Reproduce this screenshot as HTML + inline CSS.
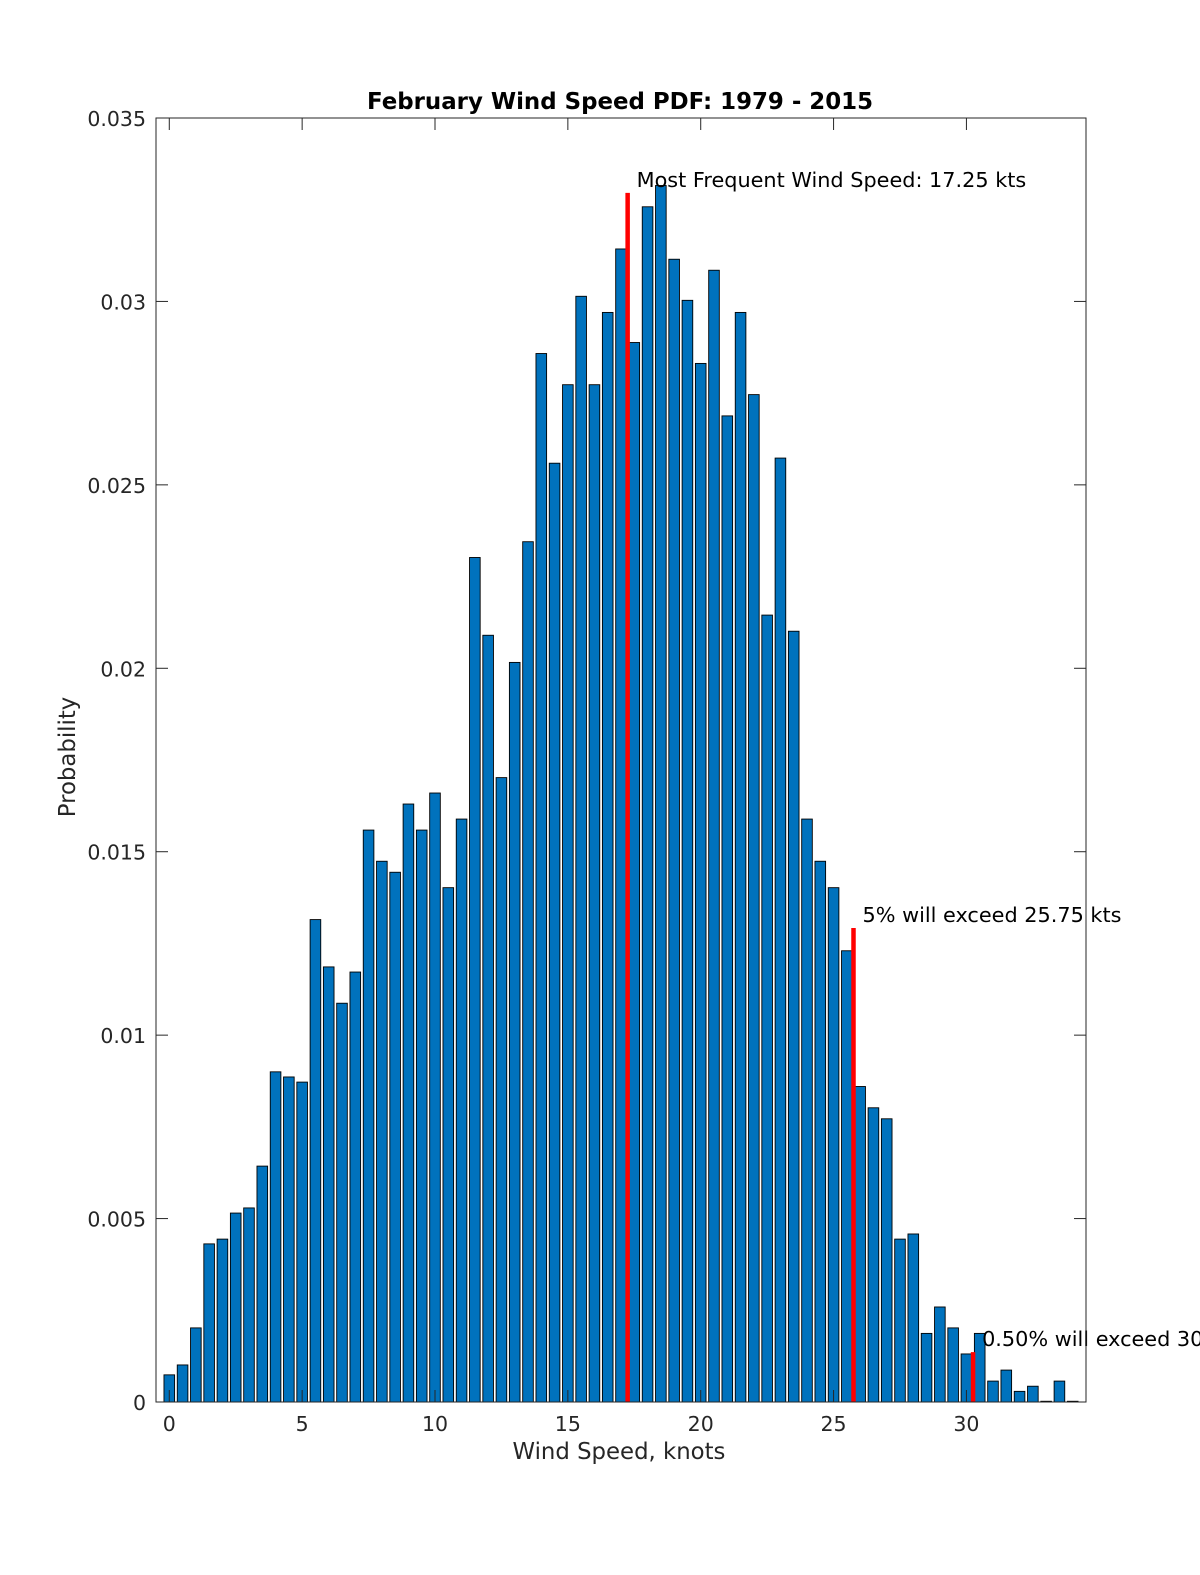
<!DOCTYPE html>
<html><head><meta charset="utf-8"><style>
html,body{margin:0;padding:0;background:#fff;overflow:hidden;width:1200px;height:1575px;}
svg{display:block;overflow:hidden;}
svg text{font-family:"DejaVu Sans","Liberation Sans",sans-serif;fill:#262626;}
</style></head><body>
<svg id="chart" width="1200" height="1575" xmlns="http://www.w3.org/2000/svg">
<rect width="1200" height="1575" fill="#fff"/>
<g id="bars"></g>
<g id="marks"></g>
<g id="axes"></g>
<text x="620" y="109" text-anchor="middle" font-size="22.9" font-weight="bold" style="fill:#000">February Wind Speed PDF: 1979 - 2015</text>
<text x="619" y="1459" text-anchor="middle" font-size="22.8">Wind Speed, knots</text>
<text transform="translate(75,757) rotate(-90)" text-anchor="middle" font-size="22.8">Probability</text>
</svg>
<script>
const binCenters=[0,0.5,1,1.5,2,2.5,3,3.5,4,4.5,5,5.5,6,6.5,7,7.5,8,8.5,9,9.5,10,10.5,11,11.5,12,12.5,13,13.5,14,14.5,15,15.5,16,16.5,17,17.5,18,18.5,19,19.5,20,20.5,21,21.5,22,22.5,23,23.5,24,24.5,25,25.5,26,26.5,27,27.5,28,28.5,29,29.5,30,30.5,31,31.5,32,32.5,33,33.5,34];
const probabilities=[0.00074,0.00101,0.00202,0.00431,0.00444,0.00515,0.00529,0.00643,0.0090,0.00886,0.00872,0.01315,0.01186,0.01087,0.01172,0.01559,0.01474,0.01444,0.0163,0.01559,0.0166,0.01402,0.01589,0.02302,0.0209,0.01702,0.02016,0.02345,0.02858,0.02559,0.02773,0.03014,0.02773,0.0297,0.03143,0.02888,0.03258,0.03316,0.03115,0.03003,0.02831,0.03085,0.02688,0.0297,0.02746,0.02145,0.02573,0.02101,0.01589,0.01474,0.01402,0.0123,0.0086,0.00802,0.00772,0.00444,0.00458,0.00187,0.00259,0.00202,0.00131,0.00187,0.00057,0.00087,0.00029,0.00043,0.00002,0.00057,0.00002];
const markerX=[17.25,25.75,30.25];
const markerY=[0.03296,0.01292,0.00136];
const markerLabels=["Most Frequent Wind Speed: 17.25 kts","5% will exceed 25.75 kts","0.50% will exceed 30.25 kts"];
const xTicks=[0,5,10,15,20,25,30];
const yTicks=[0,0.005,0.01,0.015,0.02,0.025,0.03,0.035];
const yTickLabels=["0","0.005","0.01","0.015","0.02","0.025","0.03","0.035"];

const L=156,R=1086,T=118,B=1402,xmin=-0.5,xmax=34.5,ymax=0.035;
const sx=v=>L+(v-xmin)/(xmax-xmin)*(R-L);
const sy=v=>B-v/ymax*(B-T);
const NS="http://www.w3.org/2000/svg";
function mk(tag,attrs,parent){const e=document.createElementNS(NS,tag);for(const k in attrs)e.setAttribute(k,attrs[k]);parent.appendChild(e);return e;}
const bars=document.getElementById('bars');
binCenters.forEach((c,i)=>{
  const x0=sx(c-0.2),x1=sx(c+0.2),y=sy(probabilities[i]);
  const r=mk('rect',{x:x0,y:y,width:x1-x0,height:B-y,fill:'#0072BD',stroke:'#000','stroke-width':0.9},bars);
  
  
});
const marks=document.getElementById('marks');
markerX.forEach((m,i)=>{
  const ln=mk('line',{x1:sx(m),x2:sx(m),y1:B,y2:sy(markerY[i]),stroke:'#ff0000','stroke-width':4.5},marks);
  
  
  const t=mk('text',{x:sx(m)+9,y:sy(markerY[i])-6,'font-size':20.8},marks);
  
  
  t.style.fill='#000';
  t.textContent=markerLabels[i];
});
const ax=document.getElementById('axes');
mk('rect',{x:L,y:T,width:R-L,height:B-T,fill:'none',stroke:'#262626','stroke-width':1},ax);
xTicks.forEach(v=>{
  const x=sx(v);
  mk('line',{x1:x,x2:x,y1:B,y2:B-12,stroke:'#262626'},ax);
  mk('line',{x1:x,x2:x,y1:T,y2:T+12,stroke:'#262626'},ax);
  const t=mk('text',{x:x,y:B+29,'text-anchor':'middle','font-size':20.5},ax);
  
  
  t.textContent=v;
});
yTicks.forEach((v,i)=>{
  const y=sy(v);
  mk('line',{x1:L,x2:L+12,y1:y,y2:y,stroke:'#262626'},ax);
  mk('line',{x1:R,x2:R-12,y1:y,y2:y,stroke:'#262626'},ax);
  const t=mk('text',{x:L-10,y:y+8,'text-anchor':'end','font-size':20.5},ax);
  
  
  t.textContent=yTickLabels[i];
});
</script>
</body></html>
